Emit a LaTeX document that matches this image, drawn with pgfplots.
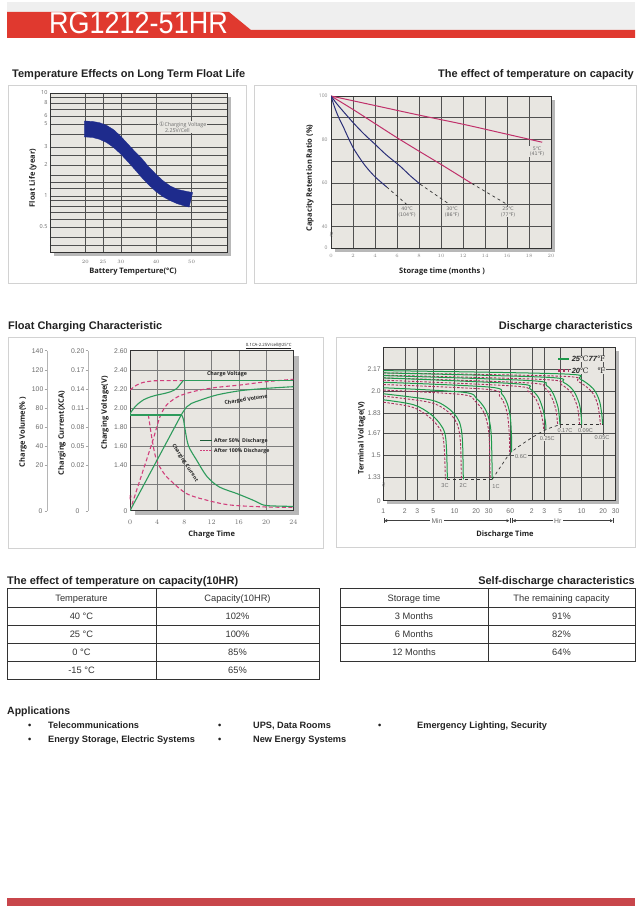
\documentclass[border=0pt]{standalone}
\usepackage{fontspec}
\setmainfont{Liberation Sans}
\newfontfamily\osans{Open Sans}
\newfontfamily\djs{DejaVu Sans}
\newfontfamily\djserif{DejaVu Serif}
\usepackage{graphicx}
\usepackage{pgfplots}
\pgfplotsset{compat=1.18}
\usetikzlibrary{arrows.meta}

\definecolor{hdrred}{HTML}{E0392F}
\definecolor{hdrgray}{HTML}{EFEFEF}
\definecolor{botred}{HTML}{C8464B}
\definecolor{panelbd}{HTML}{D2D2D2}
\definecolor{plotbg}{HTML}{E8E6E1}
\definecolor{shadowc}{HTML}{B8B8B8}
\definecolor{gridc}{HTML}{505050}
\definecolor{navy}{HTML}{1E2B8C}
\definecolor{rasp}{HTML}{C0306A}
\definecolor{dnavy}{HTML}{2B2F78}
\definecolor{cgreen}{HTML}{2E9B5C}
\definecolor{cpink}{HTML}{D13F7C}
\definecolor{dgreen}{HTML}{1E9A4B}
\definecolor{dpink}{HTML}{A8325E}
\definecolor{ticklab}{HTML}{6A6A6A}
\definecolor{txt}{HTML}{222222}

\pgfplotsset{
  base/.style={scale only axis, clip=true,
    tick style={draw=none},
    axis line style={draw=black!80, line width=0.6pt},
    axis background/.style={fill=plotbg},
    major grid style={gridc, line width=0.45pt},
    minor grid style={gridc, line width=0.45pt},
  },
}
\newcommand\ttl{\bfseries\fontsize{11}{12}\selectfont}
\newcommand\alab{\osans\bfseries\fontsize{7.5}{8}\selectfont}

\begin{document}
\begin{tikzpicture}[x=1pt,y=-1pt]
\path[use as bounding box, fill=white] (0,0) rectangle (640,912);

% header band
\fill[hdrgray] (7,2) rectangle (635,30);
\fill[hdrred] (7,12) -- (229,12) -- (251,30) -- (635,30) -- (635,38) -- (7,38) -- cycle;
\node[anchor=base west, text=white, inner sep=0] at (49,33.5) {\scalebox{1}[1.12]{\fontsize{27}{27}\selectfont RG1212-51HR}};

% section titles
\node[anchor=base west, inner sep=0, text=txt] at (12,78) {\ttl Temperature Effects on Long Term Float Life};
\node[anchor=base east, inner sep=0, text=txt] at (634,78) {\ttl The effect of temperature on capacity};
\node[anchor=base west, inner sep=0, text=txt] at (8,329) {\ttl Float Charging Characteristic};
\node[anchor=base east, inner sep=0, text=txt] at (633,329) {\ttl Discharge characteristics};
\node[anchor=base west, inner sep=0, text=txt] at (7,584) {\ttl The effect of temperature on capacity(10HR)};
\node[anchor=base east, inner sep=0, text=txt] at (635,584) {\ttl Self-discharge characteristics};

% panel boxes
\draw[panelbd, line width=0.8pt] (8,85) rectangle (246,283);
\draw[panelbd, line width=0.8pt] (254,85) rectangle (636,283);
\draw[panelbd, line width=0.8pt] (8,337) rectangle (323,548);
\draw[panelbd, line width=0.8pt] (336,337) rectangle (635,547);

% ---------- panel 1: float life ----------
\fill[shadowc] (54,97) rectangle (231,256);
\begin{scope}[x=1cm,y=1cm]
\begin{axis}[base, at={(50pt,-93pt)}, anchor=north west, width=177pt, height=159pt,
  xmin=10, xmax=60, ymode=log, ymin=0.286, ymax=10,
  xtick={20,25,30,40,50}, ytick={0.5,1,2,3,5,6,8,10},
  yticklabels={0.5,1,2,3,5,6,8,10},
  minor ytick={0.33,0.4,0.6,0.7,0.8,0.9,1.2,1.35,1.6,2.5,4,7,9},
  xmajorgrids, ymajorgrids, yminorgrids,
  tick label style={font=\osans\fontsize{5.5}{6}\selectfont, text=ticklab},
  xticklabel style={yshift=-5pt}, yticklabel style={xshift=1pt}]
\addplot[fill=navy, draw=navy, line width=0.3pt] coordinates {
  (19.7,5.35)(22,5.3)(24,5.15)(26,4.85)(28,4.4)(30,3.8)(32,3.2)(34,2.7)
  (36,2.3)(38,1.9)(40,1.62)(42,1.4)(44,1.25)(46,1.16)(48,1.12)(50.3,1.08)
  (49.3,0.78)(48,0.8)(46,0.84)(44,0.9)(42,0.98)(40,1.1)(38,1.27)(36,1.5)
  (34,1.8)(32,2.15)(30,2.55)(28,2.95)(26,3.3)(24,3.55)(22,3.7)(19.7,3.75)} -- cycle;
\end{axis}
\end{scope}
\node[fill=plotbg, inner sep=1pt, anchor=west, text=ticklab, align=left,
  font=\osans\fontsize{5.3}{6.2}\selectfont] at (158,127) {{\djs\fontsize{6}{6}\selectfont ①}Charging Voltage\\\hspace{6pt}2.25V/Cell};
\node[rotate=90, text=txt] at (33,178) {\alab Float Life (year)};
\node[text=txt] at (133,272) {\alab Battery Temperture(\textdegree C)};

% ---------- panel 2: capacity retention ----------
\fill[shadowc] (335,100) rectangle (555,252);
\begin{scope}[x=1cm,y=1cm]
\begin{axis}[base, at={(331pt,-96pt)}, anchor=north west, width=220pt, height=152pt,
  xmin=0, xmax=20, ymin=30, ymax=100,
  xtick={0,2,...,20}, ytick={30,40,60,80,100}, yticklabels={0,40,60,80,100},
  minor ytick={50,70,90},
  xmajorgrids, ymajorgrids, yminorgrids,
  tick label style={font=\osans\fontsize{5}{6}\selectfont, text=ticklab!80},
  xticklabel style={yshift=-3pt}]
\addplot[rasp, line width=1pt, smooth] coordinates {(0,100)(4,95.6)(8,91.2)(12,87)(16,82.4)(19.2,78.7)};
\addplot[rasp, line width=1pt, smooth] coordinates {(0,100)(2,93.8)(4,87.3)(6,80.8)(8,74.6)(10,68.5)(12.8,59.7)};
\addplot[dnavy, line width=1pt, smooth] coordinates {(0,100)(0.5,96.6)(1.1,93)(2,87.8)(3,82.5)(4,77.8)(5,73)(6.3,67.6)(7.2,63.3)(8.1,59.4)};
\addplot[dnavy, line width=1pt, smooth] coordinates {(0,100)(0.25,96)(0.5,92.5)(0.8,89)(1.1,86)(1.5,81.5)(2,76.3)(2.6,71.5)(3.2,67.3)(4,62.8)(5.06,58.1)};
\addplot[black!80, line width=0.7pt, dashed] coordinates {(12.8,59.7)(16,50.1)};
\addplot[black!80, line width=0.7pt, dashed] coordinates {(8.1,59.4)(10.8,50)};
\addplot[black!80, line width=0.7pt, dashed] coordinates {(5.06,58.1)(6.9,50)};
\end{axis}
\end{scope}
\begin{scope}[every node/.style={font=\djs\fontsize{4.8}{5.5}\selectfont, text=ticklab, fill=plotbg, inner sep=0.6pt, align=center}]
\node at (537,151.5) {5℃\\(41℉)};
\node at (407,212) {40℃\\(104℉)};
\node at (452,212) {30℃\\(86℉)};
\node at (508,212) {25℃\\(77℉)};
\end{scope}
\node[text=ticklab, font=\fontsize{6}{6}\selectfont, rotate=90] at (331.5,235) {$\approx$};
\node[rotate=90, text=txt] at (310,178) {\alab Capacity Retention Ratio (\%)};
\node[text=txt] at (442,272) {\alab Storage time (months )};

% ---------- panel 3: float charging ----------
\fill[shadowc] (135,356) rectangle (299,515);
\begin{scope}[x=1cm,y=1cm]
\begin{axis}[base, at={(130pt,-350.7pt)}, anchor=north west, width=163.3pt, height=160pt,
  xmin=0, xmax=24, ymin=0.92, ymax=2.60,
  xtick={0,4,...,24}, ytick={0.92,1.4,1.6,1.8,2.0,2.2,2.4,2.6},
  yticklabels={0,1.40,1.60,1.80,2.00,2.20,2.40,2.60},
  minor ytick={1.2},
  xmajorgrids, ymajorgrids, yminorgrids,
  major grid style={gridc!75, line width=0.45pt},
  minor grid style={gridc!75, line width=0.45pt},
  tick label style={font=\fontsize{6.8}{7}\selectfont, text=ticklab},
  xticklabel style={yshift=-6pt}, yticklabel style={xshift=1pt}]
% after 100% discharge (dashed)
\addplot[cpink, line width=1.1pt, dash pattern=on 4pt off 2.5pt, smooth] coordinates {(0,2.187)(0.5,2.215)(1,2.24)(1.5,2.257)(2,2.268)(3,2.28)(4,2.285)(7.8,2.285)};
\addplot[cpink, line width=1.1pt, dash pattern=on 4pt off 2.5pt, smooth] coordinates {(0,0.92)(1.5,1.25)(3.3,1.645)(4.41,1.907)(5.39,2.03)(6.86,2.11)(8.33,2.152)(10.3,2.187)(12.75,2.215)(16.2,2.24)(20.1,2.275)(24,2.30)};
\addplot[cpink, line width=1.1pt, dash pattern=on 4pt off 2.5pt, smooth] coordinates {(2.7,1.925)(3.3,1.645)(3.9,1.45)(4.9,1.32)(5.9,1.24)(8.3,1.10)(11.3,1.03)(14.7,0.98)(19.6,0.96)(24,0.955)};
% after 50% discharge (solid)
\addplot[cgreen, line width=1.1pt, smooth] coordinates {(0,1.94)(0.5,1.99)(1,2.03)(1.5,2.06)(2,2.085)(3,2.115)(4,2.135)(5,2.15)(6,2.17)(6.8,2.2)(7.3,2.24)(7.8,2.285)};
\addplot[cgreen, line width=1.1pt] coordinates {(7.8,2.285)(24,2.285)};
\addplot[cgreen, line width=1.1pt] coordinates {(0,0.92)(7.6,1.935)};
\addplot[cgreen, line width=1.1pt, smooth] coordinates {(7.6,1.935)(8.33,2.01)(9,2.045)(10.3,2.08)(12.75,2.135)(16.2,2.18)(20.1,2.205)(24,2.222)};
\addplot[cgreen, line width=1.1pt] coordinates {(0,1.925)(7.6,1.925)};
\addplot[cgreen, line width=1.1pt, smooth] coordinates {(7.6,1.925)(7.85,1.88)(8.1,1.77)(8.6,1.6)(9.8,1.45)(11.3,1.28)(13.1,1.17)(15.7,1.10)(18.1,1.03)(19.6,0.98)(21,0.97)(24,0.965)};
\end{axis}
\end{scope}
% extra y scales
\draw[ticklab!50, line width=0.6pt] (47,350.7) -- (47,511);
\draw[ticklab!50, line width=0.6pt] (88,350.7) -- (88,511);
\begin{scope}[every node/.style={font=\fontsize{6.8}{7}\selectfont, text=ticklab, inner sep=0.5pt}]
\foreach \y/\a/\b in {350.7/140/0.20, 370/120/0.17, 389/100/0.14, 408.3/80/0.11, 427.3/60/0.08, 446/40/0.05, 465/20/0.02} {
  \node[anchor=east] at (44,\y) {\a};
  \draw[ticklab!60, line width=0.5pt] (44.5,\y) -- (47,\y);
  \node[anchor=east] at (85,\y) {\b};
  \draw[ticklab!60, line width=0.5pt] (85.5,\y) -- (88,\y);
}
\node[anchor=east] at (43,511) {0};
\draw[ticklab!60, line width=0.5pt] (44.5,511) -- (47,511);
\node[anchor=east] at (80,511) {0};
\draw[ticklab!60, line width=0.5pt] (85.5,511) -- (88,511);
\end{scope}
\node[text=cpink, font=\fontsize{5}{5}\selectfont, rotate=90] at (130.5,498) {$\approx$};
\node[rotate=90, text=txt] at (23,432) {\alab Charge Volume(\% )};
\node[rotate=90, text=txt] at (62,433) {\alab Charging Current(XCA)};
\node[rotate=90, text=txt] at (105,413) {\alab Charging Voltage(V)};
\node[text=txt] at (211.7,535) {\alab Charge Time};
\node[text=txt, font=\osans\fontsize{4.3}{5}\selectfont, anchor=east] at (295,346) {\underline{0.1CA-2.25V/cell@25\textdegree C}};
\node[text=txt, font=\osans\bfseries\fontsize{5.3}{6}\selectfont] at (227,374) {Charge Voltage};
\node[text=txt, font=\osans\bfseries\fontsize{5.3}{6}\selectfont, rotate=9] at (246,400) {Charged Volume};
\node[text=txt, font=\osans\bfseries\fontsize{5.1}{6}\selectfont, rotate=-57, inner sep=0pt] at (185,463) {Charging Current};
\draw[cgreen!60!black, line width=1pt] (200,440.7) -- (212,440.7);
\node[anchor=west, text=txt, font=\osans\bfseries\fontsize{5.2}{6}\selectfont, inner sep=1pt] at (213,440.7) {After 50\%\ \ Discharge};
\draw[cpink, line width=0.8pt, dash pattern=on 2pt off 1pt] (200,450.7) -- (212,450.7);
\node[anchor=west, text=txt, font=\osans\bfseries\fontsize{5.2}{6}\selectfont, inner sep=1pt] at (213,450.7) {After 100\% Discharge};

% ---------- panel 4: discharge ----------
\fill[shadowc] (387,351) rectangle (619,504);
\begin{scope}[x=1cm,y=1cm]
\begin{axis}[base, at={(383.3pt,-347.3pt)}, anchor=north west, width=232.4pt, height=153.4pt,
  xmode=log, xmin=1, xmax=1800, ymin=1.143, ymax=2.341,
  xtick={1,2,3,5,10,20,30,60,120,180,300,600,1200,1800},
  xticklabels={1,2,3,5,10,20,30,60,2,3,5,10,20,30},
  ytick={1.143,1.33,1.5,1.67,1.83,2.0,2.17},
  yticklabels={0,1.33,1.5,1.67,1.83,2.0,2.17},
  xmajorgrids, ymajorgrids,
  tick label style={font=\fontsize{6.8}{7}\selectfont, text=ticklab},
  xticklabel style={yshift=-5pt}, yticklabel style={xshift=1pt}]
% 20 C (dashed)
\pgfplotsset{every axis plot/.append style={smooth, tension=0.55}}
\addplot[dpink, line width=0.9pt, dash pattern=on 2.5pt off 1.6pt] coordinates {(1,1.912)(2.5,1.875)(4.2,1.805)(5.8,1.727)(6.8,1.65)(7.2,1.52)(7.4,1.31)};
\addplot[dpink, line width=0.9pt, dash pattern=on 2.5pt off 1.6pt] coordinates {(1,1.96)(4.3,1.913)(7.3,1.856)(10,1.778)(11.4,1.70)(12.1,1.575)(12.4,1.31)};
\addplot[dpink, line width=0.9pt, dash pattern=on 2.5pt off 1.6pt] coordinates {(1,2.007)(12.6,1.972)(19.2,1.921)(25,1.843)(28.5,1.753)(30.5,1.625)(31.4,1.31)};
\addplot[dpink, line width=0.9pt, dash pattern=on 2.5pt off 1.6pt] coordinates {(1,2.05)(29.5,2.012)(42.5,1.96)(51,1.882)(56,1.778)(58.5,1.625)(58.8,1.51)};
\addplot[dpink, line width=0.9pt, dash pattern=on 2.5pt off 1.6pt] coordinates {(1,2.084)(69,2.038)(106,1.999)(138,1.934)(162,1.83)(175,1.727)(177,1.69)};
\addplot[dpink, line width=0.9pt, dash pattern=on 2.5pt off 1.6pt] coordinates {(1,2.102)(106,2.063)(181,2.024)(224,1.96)(261,1.856)(275,1.753)(278,1.737)};
\addplot[dpink, line width=0.9pt, dash pattern=on 2.5pt off 1.6pt] coordinates {(1,2.123)(181,2.089)(310,2.05)(427,1.986)(519,1.882)(553,1.778)(560,1.737)};
\addplot[dpink, line width=0.9pt, dash pattern=on 2.5pt off 1.6pt] coordinates {(1,2.141)(310,2.115)(531,2.076)(815,1.999)(990,1.908)(1068,1.805)(1100,1.737)};
% 25 C (solid)
\addplot[dgreen, line width=1pt] coordinates {(1,1.931)(2.63,1.893)(4.5,1.823)(6.2,1.745)(7.3,1.667)(7.7,1.537)(7.9,1.31)};
\addplot[dgreen, line width=1pt] coordinates {(1,1.978)(4.5,1.931)(7.7,1.874)(10.7,1.796)(12.2,1.718)(12.9,1.59)(13.2,1.31)};
\addplot[dgreen, line width=1pt] coordinates {(1,2.025)(13.2,1.99)(20.3,1.939)(26.6,1.861)(30.5,1.771)(32.6,1.641)(33.6,1.31)};
\addplot[dgreen, line width=1pt] coordinates {(1,2.068)(31.2,2.03)(45.5,1.978)(54.6,1.9)(60.1,1.796)(62.5,1.641)(62.8,1.524)};
\addplot[dgreen, line width=1pt] coordinates {(1,2.102)(73.8,2.056)(113,2.017)(148,1.952)(174,1.848)(188,1.745)(190,1.698)};
\addplot[dgreen, line width=1pt] coordinates {(1,2.12)(113,2.081)(194,2.042)(240,1.978)(280,1.874)(295,1.771)(298,1.737)};
\addplot[dgreen, line width=1pt] coordinates {(1,2.141)(194,2.107)(332,2.068)(458,2.004)(556,1.9)(593,1.796)(601,1.737)};
\addplot[dgreen, line width=1pt] coordinates {(1,2.159)(332,2.133)(569,2.094)(873,2.017)(1060,1.926)(1145,1.823)(1181,1.737)};
% end voltage locus
\addplot[black!80, line width=0.7pt, dashed, sharp plot] coordinates {(7.9,1.31)(33.6,1.31)};
\addplot[black!80, line width=0.7pt, dashed] coordinates {(33.6,1.31)(48,1.44)(62.8,1.524)(113,1.625)(190,1.698)(298,1.737)};
\addplot[black!80, line width=0.7pt, dashed, sharp plot] coordinates {(298,1.737)(1181,1.737)};
\end{axis}
\end{scope}
\begin{scope}[every node/.style={font=\fontsize{5.6}{6}\selectfont, text=ticklab, fill=plotbg, inner sep=0.6pt}]
\node at (445,486) {3C};
\node at (463.3,486) {2C};
\node at (496,486.7) {1C};
\node at (521,456.7) {0.6C};
\node at (547.3,438.3) {0.25C};
\node at (565,430.7) {0.17C};
\node at (585.5,430.7) {0.09C};
\node at (602,437.3) {0.05C};
\end{scope}
\node[text=ticklab, font=\fontsize{5}{5}\selectfont, rotate=90] at (383.8,485) {$\approx$};
\draw[dgreen, line width=2.6pt] (558,359) -- (569,359);
\node[anchor=west, text=txt, fill=plotbg, inner sep=0.6pt, font=\fontsize{7.5}{8}\selectfont] at (571,359) {\textbf{\textit{25}}{\djserif ℃}\textbf{\textit{77}}{\djserif ℉}};
\draw[dpink, line width=2.6pt, dash pattern=on 2.6pt off 2.2pt] (558,370.5) -- (568,370.5);
\node[anchor=west, text=txt, fill=plotbg, inner sep=0.6pt, font=\fontsize{7.5}{8}\selectfont] at (571,370.5) {\textbf{\textit{20}}{\djserif ℃}\hspace{9pt}{\djserif ℉}};
% Min / Hr scale
\begin{scope}[>={Latex[length=3pt,width=3.2pt]}, line width=0.5pt, black!75]
\draw[|<->|] (383.5,520.7) -- (510,520.7);
\draw[|<->|] (512,520.7) -- (613.5,520.7);
\end{scope}
\node[fill=white, inner sep=1.5pt, text=ticklab, font=\fontsize{6.8}{7}\selectfont] at (437,520.7) {Min};
\node[fill=white, inner sep=1.5pt, text=ticklab, font=\fontsize{6.8}{7}\selectfont] at (557.7,520.7) {Hr};
\node[rotate=90, text=txt] at (361.7,438) {\alab Terminal Voltage(V)};
\node[text=txt] at (505,535) {\alab Discharge Time};

% ---------- tables ----------
\begin{scope}[line width=0.7pt, draw=black!80]
\draw (7,588) rectangle (319,679);
\foreach \y in {607,625,643,661} \draw (7,\y) -- (319,\y);
\draw (156,588) -- (156,679);
\draw (340,588) rectangle (635,661);
\foreach \y in {607,625,643} \draw (340,\y) -- (635,\y);
\draw (488,588) -- (488,661);
\end{scope}
\begin{scope}[every node/.style={font=\fontsize{9.3}{10}\selectfont, text=black!80, inner sep=0, anchor=base}]
\node at (81.5,601) {Temperature};
\node at (237.5,601) {Capacity(10HR)};
\node at (81.5,619.5) {40 \textdegree C};
\node at (237.5,619.5) {102\%};
\node at (81.5,637.5) {25 \textdegree C};
\node at (237.5,637.5) {100\%};
\node at (81.5,655.5) {0 \textdegree C};
\node at (237.5,655.5) {85\%};
\node at (81.5,673.5) {-15 \textdegree C};
\node at (237.5,673.5) {65\%};
\node at (414,601) {Storage time};
\node at (561.5,601) {The remaining capacity};
\node at (414,619.5) {3 Months};
\node at (561.5,619.5) {91\%};
\node at (414,637.5) {6 Months};
\node at (561.5,637.5) {82\%};
\node at (414,655.5) {12 Months};
\node at (561.5,655.5) {64\%};
\end{scope}

% ---------- applications ----------
\node[anchor=base west, inner sep=0, text=txt] at (7,714) {\bfseries\fontsize{10.5}{11}\selectfont Applications};
\begin{scope}[every node/.style={anchor=base west, inner sep=0, text=txt, font=\bfseries\fontsize{9.2}{10}\selectfont}]
\node at (28,728) {\textbullet};
\node at (48,728) {Telecommunications};
\node at (218,728) {\textbullet};
\node at (253,728) {UPS, Data Rooms};
\node at (378,728) {\textbullet};
\node at (417,728) {Emergency Lighting, Security};
\node at (28,742) {\textbullet};
\node at (48,742) {Energy Storage, Electric Systems};
\node at (218,742) {\textbullet};
\node at (253,742) {New Energy Systems};
\end{scope}

% bottom bar
\fill[botred] (7,898) rectangle (635,906);
\end{tikzpicture}
\end{document}
